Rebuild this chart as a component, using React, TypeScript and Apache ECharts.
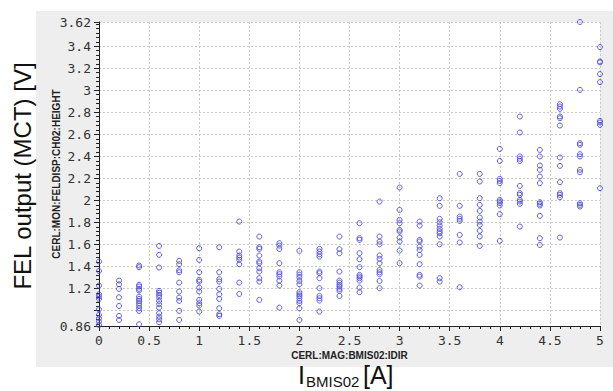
import React, { useEffect, useRef } from "react";
import * as echarts from "echarts";

// Measured current settings (A) for each column of points
const currents = [0, 0.2, 0.4, 0.6, 0.8, 1.0, 1.2, 1.4, 1.6, 1.8, 2.0, 2.2, 2.4, 2.6, 2.8, 3.0, 3.2, 3.4, 3.6, 3.8, 4.0, 4.2, 4.4, 4.6, 4.8, 5.0];

// FEL output (V) read for each current
const felOutput: number[][] = [
  [1.445, 1.36, 1.227, 1.148, 1.127, 1.106, 1.012, 0.961, 0.93, 0.9, 0.87],
  [1.272, 1.239, 1.197, 1.121, 1.042, 0.952, 0.915],
  [1.409, 1.394, 1.233, 1.218, 1.197, 1.182, 1.127, 1.106, 1.088, 1.067, 1.045, 1.021, 0.997, 0.876],
  [1.587, 1.506, 1.391, 1.179, 1.163, 1.142, 1.118, 1.088, 1.058, 1.027, 0.976, 0.946, 0.921, 0.894],
  [1.451, 1.421, 1.366, 1.348, 1.254, 1.173, 1.118, 1.088, 0.997, 0.915],
  [1.566, 1.46, 1.348, 1.279, 1.263, 1.209, 1.173, 1.097, 1.067, 1.045, 0.991],
  [1.575, 1.348, 1.285, 1.263, 1.197, 1.148, 1.106, 1.021, 0.967, 0.952],
  [1.808, 1.536, 1.5, 1.481, 1.46, 1.421, 1.254, 1.151],
  [1.672, 1.575, 1.56, 1.5, 1.445, 1.43, 1.384, 1.354, 1.294, 1.263, 1.097],
  [1.612, 1.59, 1.56, 1.43, 1.348, 1.33, 1.309, 1.272, 1.227, 1.027],
  [1.542, 1.348, 1.324, 1.3, 1.269, 1.239, 1.167, 1.148, 1.133, 1.112, 1.088, 1.067, 1.021, 0.915],
  [1.56, 1.536, 1.512, 1.49, 1.354, 1.339, 1.294, 1.203, 1.133, 1.112, 1.091, 0.991],
  [1.672, 1.557, 1.521, 1.354, 1.272, 1.254, 1.233, 1.218, 1.197, 1.179, 1.133],
  [1.793, 1.657, 1.642, 1.521, 1.466, 1.394, 1.324, 1.309, 1.294, 1.272, 1.209, 1.167],
  [1.99, 1.672, 1.627, 1.602, 1.5, 1.469, 1.43, 1.369, 1.348, 1.33, 1.269, 1.203],
  [2.117, 1.914, 1.823, 1.793, 1.733, 1.718, 1.663, 1.627, 1.545, 1.43],
  [1.808, 1.772, 1.642, 1.627, 1.581, 1.551, 1.506, 1.421, 1.324, 1.309, 1.227],
  [2.02, 1.951, 1.833, 1.802, 1.772, 1.742, 1.718, 1.702, 1.672, 1.602, 1.294, 1.263],
  [2.241, 1.951, 1.854, 1.833, 1.814, 1.687, 1.618, 1.212],
  [2.241, 2.172, 2.02, 1.96, 1.905, 1.845, 1.808, 1.778, 1.724, 1.672, 1.587],
  [2.468, 2.359, 2.196, 2.178, 2.157, 2.005, 1.99, 1.975, 1.954, 1.875, 1.633],
  [2.762, 2.617, 2.399, 2.378, 2.359, 2.132, 2.066, 2.051, 2.005, 1.99, 1.969, 1.763],
  [2.459, 2.399, 2.317, 2.278, 2.217, 2.157, 1.984, 1.969, 1.954, 1.86, 1.657, 1.596],
  [2.874, 2.853, 2.832, 2.762, 2.747, 2.68, 2.39, 2.314, 2.166, 2.066, 2.051, 2.029, 1.663],
  [3.62, 3.004, 2.52, 2.505, 2.42, 2.399, 2.278, 2.256, 1.975, 1.96, 1.945],
  [3.392, 3.262, 3.253, 3.147, 3.074, 2.723, 2.708, 2.686, 2.111],
];

const yMajorTicks = [0.86, 1.0, 1.2, 1.4, 1.6, 1.8, 2.0, 2.2, 2.4, 2.6, 2.8, 3.0, 3.2, 3.4, 3.62];
const yTickLabels = [0.86, 1.2, 1.4, 1.6, 1.8, 2.0, 2.2, 2.4, 2.6, 2.8, 3.0, 3.2, 3.4, 3.62];
const yMinorTicks = [
  0.88, 0.92, 0.96, 1.04, 1.08, 1.12, 1.16, 1.24, 1.28, 1.32, 1.36, 1.44, 1.48, 1.52, 1.56,
  1.64, 1.68, 1.72, 1.76, 1.84, 1.88, 1.92, 1.96, 2.04, 2.08, 2.12, 2.16, 2.24, 2.28, 2.32, 2.36,
  2.44, 2.48, 2.52, 2.56, 2.64, 2.68, 2.72, 2.76, 2.84, 2.88, 2.92, 2.96, 3.04, 3.08, 3.12, 3.16,
  3.24, 3.28, 3.32, 3.36, 3.44, 3.48, 3.52, 3.56, 3.6,
];

const xAxisName = "CERL:MAG:BMIS02:IDIR";
const yAxisName = "CERL:MON:FELDISP:CH02:HEIGHT";

export default function App() {
  const ref = useRef<HTMLDivElement>(null);

  useEffect(() => {
    if (!ref.current) return;
    const chart = echarts.init(ref.current, undefined, { renderer: "svg" });

    const points: number[][] = [];
    currents.forEach((x, i) => {
      felOutput[i].forEach((y) => points.push([x, y]));
    });

    const labelFont = {
      fontFamily: "DejaVu Sans Mono",
      fontSize: 13,
      color: "#333",
    };
    const axisColor = "#222";
    const sans = "Liberation Sans, Arial, sans-serif";

    chart.setOption({
      animation: false,
      backgroundColor: "#fff",
      grid: {
        left: 99,
        top: 22,
        right: 13,
        bottom: 65,
        show: true,
        backgroundColor: "#fff",
        borderWidth: 0,
      },
      graphic: [
        {
          type: "rect",
          z: -10,
          silent: true,
          shape: { x: 36, y: 11, width: 577, height: 356 },
          style: { fill: "#eeeeee" },
        },
        {
          type: "text",
          x: 22,
          y: 176,
          rotation: Math.PI / 2,
          style: {
            text: "FEL output (MCT) [V]",
            fontFamily: sans,
            fontSize: 24,
            fill: "#111",
            textAlign: "center",
            textVerticalAlign: "middle",
          },
        },
        {
          type: "text",
          x: 298,
          y: 375,
          style: {
            text: "I",
            fontFamily: sans,
            fontSize: 25,
            fill: "#111",
            textAlign: "left",
            textVerticalAlign: "middle",
          },
        },
        {
          type: "text",
          x: 306,
          y: 381,
          style: {
            text: "BMIS02",
            fontFamily: sans,
            fontSize: 15,
            fill: "#111",
            textAlign: "left",
            textVerticalAlign: "middle",
          },
        },
        {
          type: "text",
          x: 363,
          y: 375,
          style: {
            text: "[A]",
            fontFamily: sans,
            fontSize: 25,
            fill: "#111",
            textAlign: "left",
            textVerticalAlign: "middle",
          },
        },
      ],
      xAxis: {
        type: "value",
        min: 0,
        max: 5,
        interval: 0.5,
        name: xAxisName,
        nameLocation: "middle",
        nameGap: 24,
        nameMoveOverlap: false,
        nameTextStyle: {
          fontFamily: sans,
          fontWeight: "bold",
          fontSize: 10,
          color: "#222",
        },
        axisLine: { show: true, lineStyle: { color: axisColor, width: 1 } },
        axisTick: { show: true, inside: false, length: 5, lineStyle: { color: axisColor } },
        minorTick: { show: true, splitNumber: 5, length: 3, lineStyle: { color: axisColor } },
        axisLabel: {
          ...labelFont,
          margin: 8,
          formatter: (v: number) => String(v),
        },
        splitLine: {
          show: true,
          lineStyle: { color: "#c8c8c8", type: [2, 2], width: 1 },
        },
      },
      yAxis: [
        {
          type: "value",
          min: 0.86,
          max: 3.62,
          name: yAxisName,
          nameLocation: "middle",
          nameGap: 38,
          nameMoveOverlap: false,
          nameTextStyle: {
            fontFamily: sans,
            fontWeight: "bold",
            fontSize: 10,
            color: "#222",
          },
          axisLine: { show: true, lineStyle: { color: axisColor, width: 1 } },
          axisTick: {
            show: true,
            inside: false,
            length: 5,
            customValues: yMajorTicks,
            lineStyle: { color: axisColor },
          },
          axisLabel: {
            ...labelFont,
            margin: 8,
            customValues: yTickLabels,
            formatter: (v: number) => String(v),
          },
          splitLine: {
            show: true,
            lineStyle: { color: "#c8c8c8", type: [2, 2], width: 1 },
          },
        },
        {
          type: "value",
          min: 0.86,
          max: 3.62,
          position: "left",
          offset: 0,
          axisLine: { show: false },
          axisLabel: { show: false },
          splitLine: { show: false },
          axisTick: {
            show: true,
            inside: false,
            length: 3,
            customValues: yMinorTicks,
            lineStyle: { color: axisColor },
          },
        },
      ],
      series: [
        {
          type: "scatter",
          yAxisIndex: 0,
          data: points,
          symbol: "circle",
          symbolSize: 5,
          itemStyle: {
            color: "rgba(0,0,0,0)",
            borderColor: "#4a4ad8",
            borderWidth: 1,
            opacity: 0.9,
          },
        },
      ],
    });

    return () => chart.dispose();
  }, []);

  return (
    <div
      ref={ref}
      style={{ position: "absolute", left: 0, top: 0, width: 613, height: 391 }}
    />
  );
}
